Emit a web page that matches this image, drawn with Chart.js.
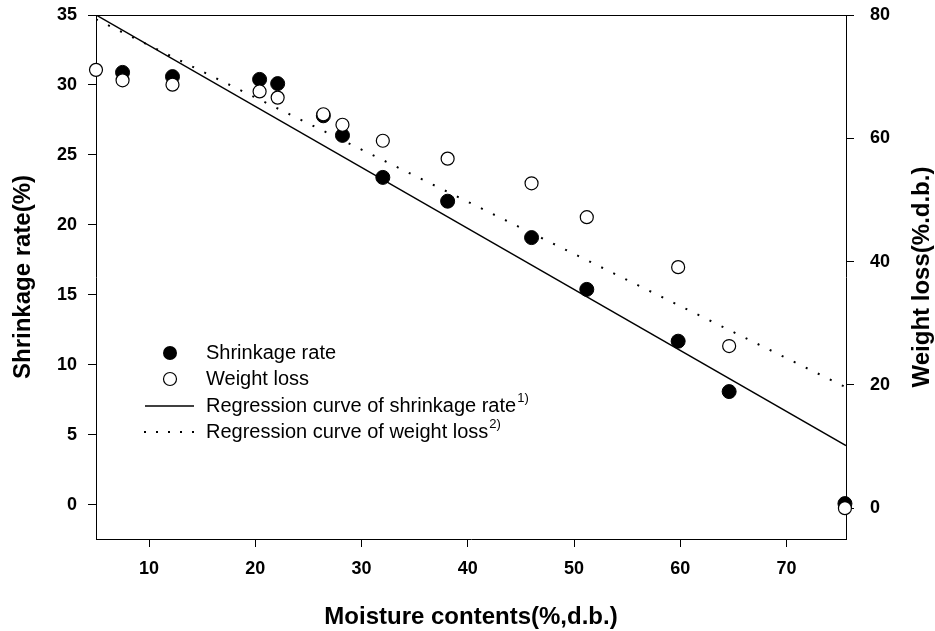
<!DOCTYPE html>
<html>
<head>
<meta charset="utf-8">
<title>Shrinkage rate and weight loss vs moisture contents</title>
<script src="https://cdn.jsdelivr.net/npm/chart.js@4/dist/chart.umd.min.js"></script>
<style>
    html, body { margin: 0; padding: 0; background: #fff; }
    #wrap { width: 935px; height: 631px; }
</style>
</head>
<body>
<div id="wrap"><canvas id="chart" width="935" height="631"></canvas></div>
<script>
// Data
const moisture = [5, 7.5, 12.2, 20.4, 22.1, 26.4, 28.2, 32.0, 38.1, 46.0, 51.2, 59.8, 64.6, 75.5];
const shrinkage = [null, 30.9, 30.6, 30.4, 30.1, 27.8, 26.4, 23.4, 21.7, 19.1, 15.4, 11.7, 8.1, 0.1];
const weightLoss = [71.1, 69.4, 68.7, 67.6, 66.6, 63.9, 62.2, 59.6, 56.7, 52.7, 47.2, 39.1, 26.3, 0];

// regression lines, end points
const fitX = [5, 75.6];
const shrinkFit = [35, 4.24];
const lossFit = [79.3, 19.6];

const xTicks = [10, 20, 30, 40, 50, 60, 70];
const yTicks = [0, 5, 10, 15, 20, 25, 30, 35];
const y2Ticks = [0, 20, 40, 60, 80];

const legendLabels = ['Shrinkage rate', 'Weight loss', 'Regression curve of shrinkage rate', 'Regression curve of weight loss'];
const legendSup = ['', '', '1)', '2)'];

const FONT = "'Liberation Sans', Arial, sans-serif";

function toPoints(xs, ys) {
    return xs.map((x, i) => ({ x: x, y: ys[i] }));
}

function fixedTicks(list) {
    return scale => { scale.ticks = list.map(v => ({ value: v })); };
}

// fixed box sizes so the plot area lands where the reference has it
function fitBox(width, height) {
    return scale => {
        if (width != null) scale.width = width;
        if (height != null) scale.height = height;
        scale.paddingTop = 0;
        scale.paddingBottom = 0;
        scale.paddingLeft = 0;
        scale.paddingRight = 0;
    };
}

// legend inside the plot + top frame line + right title (reads bottom to top)
const extras = {
    id: 'extras',
    afterDraw(chart) {
        const ctx = chart.ctx;
        const area = chart.chartArea;
        ctx.save();

        ctx.strokeStyle = '#000';
        ctx.lineWidth = 1;
        ctx.beginPath();
        ctx.moveTo(area.left, area.top + 0.5);
        ctx.lineTo(area.right, area.top + 0.5);
        ctx.stroke();

        // right axis title
        ctx.fillStyle = '#000';
        ctx.font = 'bold 24px ' + FONT;
        ctx.textAlign = 'center';
        ctx.textBaseline = 'middle';
        ctx.translate(922, (area.top + area.bottom) / 2);
        ctx.rotate(-Math.PI / 2);
        ctx.fillText('Weight loss(%.d.b.)', 0, 0);
        ctx.restore();

        // legend
        ctx.save();
        const rows = [353, 379, 406, 432];
        const mx = 170, tx = 206;
        ctx.fillStyle = '#000';
        ctx.strokeStyle = '#000';

        ctx.beginPath();
        ctx.arc(mx, rows[0], 7, 0, Math.PI * 2);
        ctx.fill();

        ctx.beginPath();
        ctx.lineWidth = 1.2;
        ctx.arc(mx, rows[1], 6.5, 0, Math.PI * 2);
        ctx.fillStyle = '#fff';
        ctx.fill();
        ctx.stroke();
        ctx.fillStyle = '#000';

        ctx.lineWidth = 1.5;
        ctx.beginPath();
        ctx.moveTo(145, rows[2]);
        ctx.lineTo(194, rows[2]);
        ctx.stroke();

        ctx.lineWidth = 2;
        ctx.setLineDash([2, 10]);
        ctx.beginPath();
        ctx.moveTo(144, rows[3]);
        ctx.lineTo(196, rows[3]);
        ctx.stroke();
        ctx.setLineDash([]);

        ctx.textAlign = 'left';
        ctx.textBaseline = 'middle';
        legendLabels.forEach((label, i) => {
            ctx.font = '20px ' + FONT;
            ctx.fillText(label, tx, rows[i]);
            if (legendSup[i]) {
                const w = ctx.measureText(label).width;
                ctx.font = '13px ' + FONT;
                ctx.fillText(legendSup[i], tx + w + 1, rows[i] - 8);
            }
        });
        ctx.restore();
    }
};

const tickFont = { family: FONT, size: 18, weight: 'bold' };
const titleFont = { family: FONT, size: 24, weight: 'bold', lineHeight: 1 };

new Chart(document.getElementById('chart'), {
    type: 'scatter',
    data: {
        datasets: [
            {
                label: legendLabels[1],
                data: toPoints(moisture, weightLoss),
                yAxisID: 'y2',
                pointRadius: 6.5,
                pointBackgroundColor: '#fff',
                pointBorderColor: '#000',
                pointBorderWidth: 1.2,
                clip: false,
                order: 0
            },
            {
                label: legendLabels[0],
                data: toPoints(moisture, shrinkage),
                yAxisID: 'y',
                pointRadius: 7,
                pointBackgroundColor: '#000',
                pointBorderColor: '#000',
                pointBorderWidth: 1,
                clip: false,
                order: 1
            },
            {
                label: legendLabels[2],
                data: toPoints(fitX, shrinkFit),
                yAxisID: 'y',
                showLine: true,
                pointRadius: 0,
                borderColor: '#000',
                borderWidth: 1.5,
                order: 2
            },
            {
                label: legendLabels[3],
                data: toPoints(fitX, lossFit),
                yAxisID: 'y2',
                showLine: true,
                pointRadius: 0,
                borderColor: '#000',
                borderWidth: 2,
                borderDash: [2, 11.4],
                order: 3
            }
        ]
    },
    options: {
        responsive: false,
        animation: false,
        devicePixelRatio: 1,
        events: [],
        layout: { padding: { top: 15, left: 0, right: 0, bottom: 0 } },
        plugins: {
            legend: { display: false },
            tooltip: { enabled: false }
        },
        scales: {
            x: {
                type: 'linear',
                position: 'bottom',
                min: 5,
                max: 75.6,
                afterBuildTicks: fixedTicks(xTicks),
                afterFit: fitBox(null, 92),
                ticks: { font: tickFont, color: '#000', padding: 11, maxRotation: 0 },
                grid: { drawOnChartArea: false, tickLength: 8, color: '#000', tickWidth: 1 },
                border: { color: '#000', width: 1 },
                title: {
                    display: true,
                    text: 'Moisture contents(%,d.b.)',
                    font: titleFont,
                    color: '#000',
                    padding: { top: 0, bottom: 2 }
                }
            },
            y: {
                type: 'linear',
                position: 'left',
                min: -2.43,
                max: 35,
                afterBuildTicks: fixedTicks(yTicks),
                afterFit: fitBox(96, null),
                ticks: { font: tickFont, color: '#000', padding: 11 },
                grid: { drawOnChartArea: false, tickLength: 8, color: '#000', tickWidth: 1 },
                border: { color: '#000', width: 1 },
                title: {
                    display: true,
                    text: 'Shrinkage rate(%)',
                    font: titleFont,
                    color: '#000',
                    padding: { top: 11, bottom: 0 }
                }
            },
            y2: {
                type: 'linear',
                position: 'right',
                min: -5,
                max: 80,
                afterBuildTicks: fixedTicks(y2Ticks),
                afterFit: fitBox(89, null),
                ticks: { font: tickFont, color: '#000', padding: 16 },
                grid: { drawOnChartArea: false, tickLength: 8, color: '#000', tickWidth: 1 },
                border: { color: '#000', width: 1 },
                title: { display: false }
            }
        }
    },
    plugins: [extras]
});
</script>
</body>
</html>
